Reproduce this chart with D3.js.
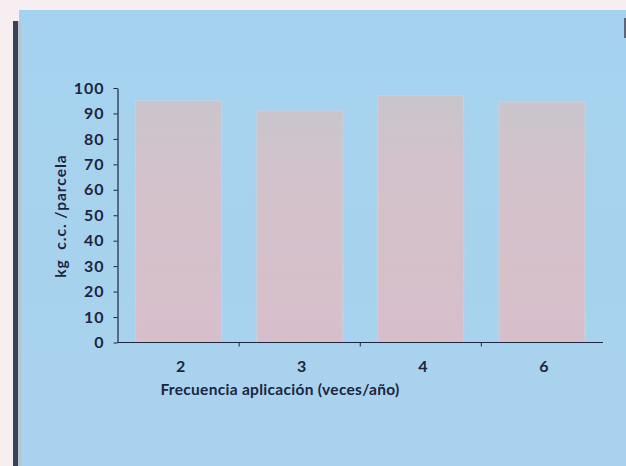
<!DOCTYPE html>
<html>
<head>
<meta charset="utf-8">
<script src="https://cdn.jsdelivr.net/npm/d3@7"></script>
<style>
  html, body { margin: 0; padding: 0; background: #f6eef1; }
  svg { display: block; }
</style>
</head>
<body>
<svg id="chart" width="626" height="466"></svg>
<script>
// Application frequency (times per year) and yield per plot
const categories = ["2", "3", "4", "6"];
const values = [95, 91, 97, 94.5];
const yTicks = [0, 10, 20, 30, 40, 50, 60, 70, 80, 90, 100];
const xTitle = "Frecuencia aplicación (veces/año)";
const yTitle = "kg  c.c. /parcela";

const svg = d3.select("#chart");
const W = 626, H = 466;
const ink = "#1d2540";
const font = "Lato, 'Noto Sans', sans-serif";

const defs = svg.append("defs");
const panelGrad = defs.append("linearGradient").attr("id", "panel").attr("x1", 0).attr("y1", 0).attr("x2", 0).attr("y2", 1);
panelGrad.append("stop").attr("offset", 0).attr("stop-color", "#a5d3ef");
panelGrad.append("stop").attr("offset", 1).attr("stop-color", "#a9d2ee");

const barGrad = defs.append("linearGradient").attr("id", "bar").attr("x1", 0).attr("y1", 0).attr("x2", 0).attr("y2", 1);
barGrad.append("stop").attr("offset", 0).attr("stop-color", "#c9c5cc");
barGrad.append("stop").attr("offset", 0.3).attr("stop-color", "#d3c2cb");
barGrad.append("stop").attr("offset", 1).attr("stop-color", "#d7bfca");

// Blue panel and its dark left edge
svg.append("rect").attr("x", 19).attr("y", 10).attr("width", W - 19).attr("height", H - 10).attr("fill", "url(#panel)");
svg.append("rect").attr("x", 13).attr("y", 21).attr("width", 5).attr("height", H - 21).attr("fill", "#394357");
svg.append("rect").attr("x", 18).attr("y", 21).attr("width", 3).attr("height", H - 21).attr("fill", "#b9c6cf");
svg.append("rect").attr("x", 624).attr("y", 18).attr("width", 2).attr("height", 20).attr("fill", "#5b6678");

const x0 = 117.5, x1 = 603, yBase = 342.5, yTop = 88;

const x = d3.scaleBand().domain(categories).range([x0, x1]).paddingInner(0.29).paddingOuter(0.15);
const y = d3.scaleLinear().domain([0, 100]).range([yBase, yTop]);

// Bars
svg.append("g").selectAll("rect").data(values).join("rect")
  .attr("x", (d, i) => x(categories[i]))
  .attr("y", d => y(d))
  .attr("width", x.bandwidth())
  .attr("height", d => y(0) - y(d))
  .attr("fill", "url(#bar)")
  .attr("stroke", "#d9d4dc")
  .attr("stroke-opacity", 0.6)
  .attr("stroke-width", 1);

// Y axis
const yAxis = svg.append("g").attr("transform", `translate(${x0},0)`)
  .call(d3.axisLeft(y).tickValues(yTicks).tickSize(4).tickPadding(9).tickSizeOuter(0));
yAxis.select(".domain").attr("stroke", ink).attr("stroke-width", 1.2);
yAxis.selectAll(".tick line").attr("stroke", ink);
yAxis.selectAll(".tick text").attr("fill", ink).attr("font-family", font)
  .attr("font-weight", 700).attr("font-size", 16).attr("letter-spacing", 1);

// X axis: ticks at category boundaries
const xAxisG = svg.append("g").attr("transform", `translate(0,${yBase})`);
xAxisG.append("line").attr("x1", x0).attr("x2", x1).attr("stroke", ink).attr("stroke-width", 1.2);
const step = x.step();
const bounds = categories.slice(1).map(c => x(c) - (step - x.bandwidth()) / 2);
xAxisG.selectAll("line.tk").data(bounds).join("line").attr("class", "tk")
  .attr("x1", d => d).attr("x2", d => d).attr("y1", 0).attr("y2", 4).attr("stroke", ink);
xAxisG.selectAll("text").data(categories).join("text")
  .attr("x", d => x(d) + x.bandwidth() / 2 + 2)
  .attr("y", 29)
  .attr("text-anchor", "middle")
  .attr("fill", ink).attr("font-family", font).attr("font-weight", 700).attr("font-size", 16)
  .text(d => d);

// Axis titles
svg.append("text")
  .attr("x", 280).attr("y", 395)
  .attr("text-anchor", "middle")
  .attr("fill", ink).attr("font-family", font).attr("font-weight", 700).attr("font-size", 15.5)
  .attr("letter-spacing", 0.3)
  .text(xTitle);

svg.append("text")
  .attr("transform", "translate(66,216) rotate(-90)")
  .attr("text-anchor", "middle")
  .attr("fill", ink).attr("font-family", font).attr("font-weight", 700).attr("font-size", 15.5)
  .attr("letter-spacing", 1)
  .attr("xml:space", "preserve")
  .style("white-space", "pre")
  .text(yTitle);
</script>
</body>
</html>
